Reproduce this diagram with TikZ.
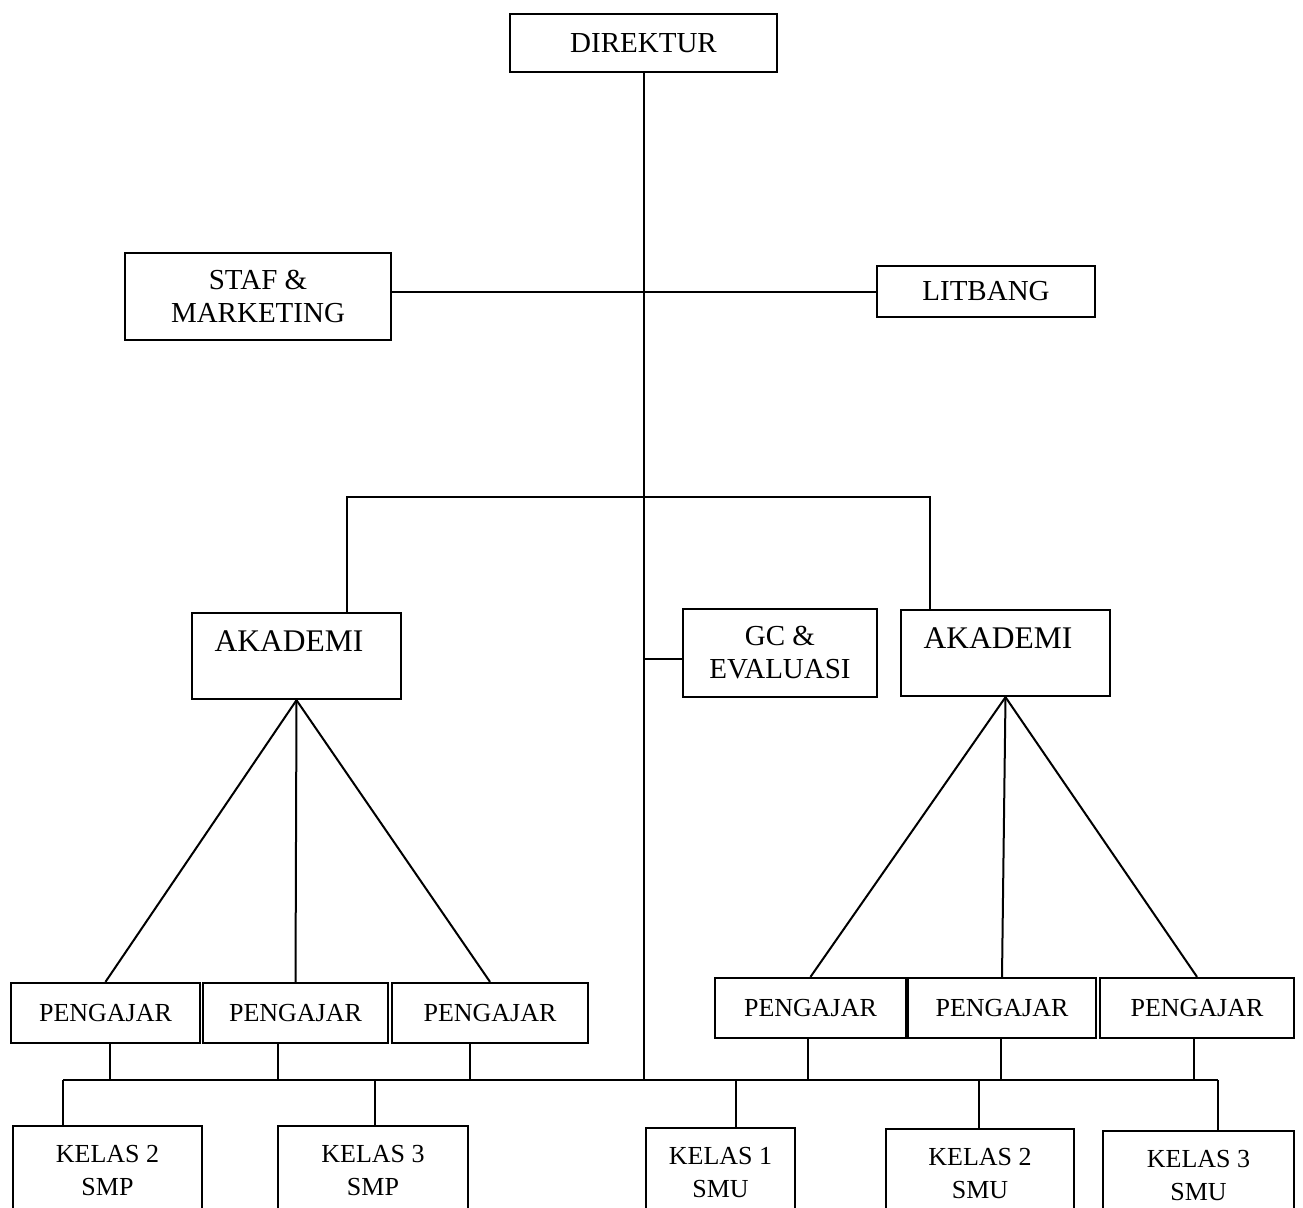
\documentclass[tikz,border=0pt]{standalone}
\usepackage{fontspec}
\setmainfont{Liberation Serif}
\begin{document}
\begin{tikzpicture}[x=1pt,y=-1pt,
  box/.style={draw,line width=2.3pt,inner sep=0pt,align=center,font=\fontsize{29}{33}\selectfont},
  small/.style={box,font=\fontsize{26}{33}\selectfont},
  akatext/.style={font=\fontsize{31.5}{36}\selectfont,xshift=-7.5pt,yshift=15pt},
  link/.style={line width=2pt}]
\useasboundingbox (0,0) rectangle (1303,1207);
\node[box,minimum width=267pt,minimum height=58pt] (dir) at (643.5,43) {DIREKTUR};
\node[box,minimum width=266pt,minimum height=87pt] (staf) at (258,296.5) {STAF \&\\MARKETING};
\node[box,minimum width=218pt,minimum height=51pt] (lit) at (986,291.5) {LITBANG};
\node[box,minimum width=209pt,minimum height=86pt,label={[akatext]center:AKADEMI}] (akaL) at (296.5,656) {};
\node[box,minimum width=194pt,minimum height=88pt] (gc) at (780,653) {GC \&\\EVALUASI};
\node[box,minimum width=209pt,minimum height=86pt,label={[akatext]center:AKADEMI}] (akaR) at (1005.5,653) {};
\foreach \n/\x/\w in {pL1/105.5/189, pL2/295.5/185, pL3/490/196}
  \node[small,minimum width=\w pt,minimum height=60pt] (\n) at (\x,1013) {PENGAJAR};
\foreach \n/\x/\w in {pR1/810.5/191, pR2/1002/188, pR3/1197/194}
  \node[small,minimum width=\w pt,minimum height=60pt] (\n) at (\x,1008) {PENGAJAR};
\foreach \n/\x/\w/\t/\k/\s in {kL2/107.5/189/1125/2/SMP, kL3/373/190/1125/3/SMP,
    kR1/720.5/149/1127/1/SMU, kR2/980/188/1128/2/SMU, kR3/1198.5/191/1130/3/SMU}
  \node[small,anchor=north,minimum width=\w pt,minimum height=88pt] (\n) at (\x,\t) {KELAS \k\\\s};
\coordinate (gcin) at ([yshift=-6pt]gc.west);
\draw[link] (dir.south) -- (dir.south |- 0,1080);
\draw[link] (lit.west) -- (lit.west -| staf.east);
\draw[link] (akaL.north -| 347,0) -- (347,497) -| (akaR.north -| 930,0);
\draw[link] (gcin) -- (gcin -| dir.south);
\foreach \n in {pL1,pL2,pL3}
  \draw[link] (akaL.south) -- (\n.north);
\foreach \n in {pR1,pR2,pR3}
  \draw[link] (akaR.south) -- (\n.north);
\draw[link] (63,1080) -- (1218,1080);
\foreach \n/\x in {pL1/110, pL2/278, pL3/470, pR1/808, pR2/1001, pR3/1194}
  \draw[link] (\n.south -| \x,0) -- (\x,1080);
\foreach \n/\x in {kL2/63, kL3/375, kR1/736, kR2/979, kR3/1218}
  \draw[link] (\x,1080) -- (\n.north -| \x,0);
\end{tikzpicture}
\end{document}
